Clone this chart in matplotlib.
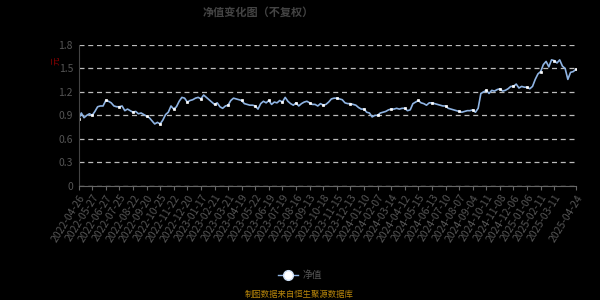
import numpy as np
import matplotlib
matplotlib.use("Agg")
import matplotlib.pyplot as plt
from matplotlib.lines import Line2D

plt.rcParams['font.family'] = ['Noto Sans CJK SC', 'DejaVu Sans']

# 刻度日期 (每5个点一个刻度, 最后一个为末点)
tick_labels = [
    "2022-04-26", "2022-05-27", "2022-06-27", "2022-07-25", "2022-08-22",
    "2022-09-20", "2022-10-25", "2022-11-22", "2022-12-20", "2023-01-17",
    "2023-02-21", "2023-03-21", "2023-04-19", "2023-05-22", "2023-06-19",
    "2023-07-19", "2023-08-16", "2023-09-13", "2023-10-18", "2023-11-15",
    "2023-12-13", "2024-01-10", "2024-02-07", "2024-03-14", "2024-04-12",
    "2024-05-15", "2024-06-13", "2024-07-10", "2024-08-07", "2024-09-04",
    "2024-10-11", "2024-11-08", "2024-12-06", "2025-01-06", "2025-02-11",
    "2025-03-11", "2025-04-24",
]

# 净值
nav = [
    0.85, 0.93, 0.87, 0.90, 0.92,
    0.90, 0.95, 1.01, 1.02, 1.02,
    1.09, 1.08, 1.06, 1.02, 1.01,
    1.01, 1.02, 0.96, 0.98, 0.96,
    0.94, 0.95, 0.92, 0.93, 0.91,
    0.89, 0.87, 0.83, 0.79, 0.81,
    0.79, 0.84, 0.91, 0.94, 1.02,
    0.98, 1.01, 1.08, 1.13, 1.12,
    1.07, 1.09, 1.10, 1.12, 1.13,
    1.11, 1.16, 1.13, 1.10, 1.07,
    1.04, 1.06, 1.01, 0.99, 1.02,
    1.03, 1.09, 1.12, 1.11, 1.10,
    1.09, 1.05, 1.04, 1.03, 1.03,
    1.02, 0.98, 1.05, 1.08, 1.06,
    1.09, 1.04, 1.07, 1.06, 1.09,
    1.07, 1.13, 1.08, 1.05, 1.03,
    1.06, 1.02, 1.05, 1.07, 1.08,
    1.06, 1.04, 1.04, 1.02, 1.05,
    1.03, 1.04, 1.07, 1.11, 1.12,
    1.12, 1.11, 1.10, 1.06, 1.05,
    1.05, 1.04, 1.03, 1.00, 0.98,
    0.98, 0.94, 0.93, 0.88, 0.90,
    0.90, 0.93, 0.94, 0.95, 0.97,
    0.98, 0.98, 0.99, 0.98, 0.99,
    0.99, 0.96, 0.97, 1.05, 1.07,
    1.09, 1.06, 1.05, 1.03, 1.06,
    1.06, 1.05, 1.04, 1.03, 1.02,
    1.02, 0.99, 0.98, 0.97, 0.96,
    0.95, 0.94, 0.95, 0.96, 0.96,
    0.97, 0.94, 0.99, 1.18, 1.20,
    1.22, 1.18, 1.22, 1.21, 1.23,
    1.24, 1.21, 1.22, 1.24, 1.27,
    1.27, 1.30, 1.25, 1.27, 1.26,
    1.26, 1.24, 1.27, 1.36, 1.43,
    1.46, 1.55, 1.59, 1.52, 1.61,
    1.60, 1.57, 1.61, 1.53, 1.50,
    1.36, 1.45, 1.46, 1.49,
]

x = np.arange(len(nav))
tick_pos = list(range(0, len(nav) - 1, 5))
tick_pos = tick_pos[:len(tick_labels) - 1] + [len(nav) - 1]
mark_idx = tick_pos

fig = plt.figure(figsize=(6, 3), dpi=100, facecolor='black')
ax = fig.add_axes([0.131, 0.381, 0.829, 0.469], facecolor='black')

ax.plot(x, nav, color='#8fb4e3', lw=1.2, marker='s', markevery=mark_idx,
        markersize=1.6, markerfacecolor='white', markeredgecolor='white',
        markeredgewidth=0.5)

ax.set_ylim(0, 1.8)
ax.set_yticks(np.arange(0, 1.81, 0.3))
ax.set_yticklabels(["0", "0.3", "0.6", "0.9", "1.2", "1.5", "1.8"])
ax.set_xlim(0, len(nav) - 1)
ax.set_xticks(tick_pos)
ax.set_xticklabels(tick_labels, rotation=58, ha='right', rotation_mode='anchor')

ax.grid(axis='y', color='#bbbbbb', linestyle=(0, (4, 3)), lw=0.9)
ax.set_axisbelow(True)
for s in ['top', 'right']:
    ax.spines[s].set_visible(False)
ax.spines['left'].set_color('#444444')
ax.spines['bottom'].set_color('#666666')
ax.tick_params(axis='x', colors='#666666', labelcolor='#555555', labelsize=7.5,
               length=3, pad=2)
ax.tick_params(axis='y', length=0, labelcolor='#555555', labelsize=7.5, pad=4)

fig.text(0.43, 0.96, "净值变化图（不复权）", ha='center', va='center',
         fontsize=8, color='#444444', fontweight='bold')
fig.text(0.093, 0.797, "元", ha='center', va='center', fontsize=6,
         color='#8b0000', rotation=90)

leg_h = Line2D([], [], color='#8fb4e3', lw=1, marker='o', markersize=7,
               markerfacecolor='white', markeredgecolor='#cfe0f5')
fig.legend([leg_h], ["净值"], loc='center', bbox_to_anchor=(0.5, 0.083),
           frameon=False, fontsize=7, labelcolor='#555555', handlelength=2,
           handletextpad=0.5)
fig.text(0.498, 0.017, "制图数据来自恒生聚源数据库", ha='center', va='center',
         fontsize=6, color='#b8860b')

fig.savefig("out.png", dpi=100, facecolor='black')
